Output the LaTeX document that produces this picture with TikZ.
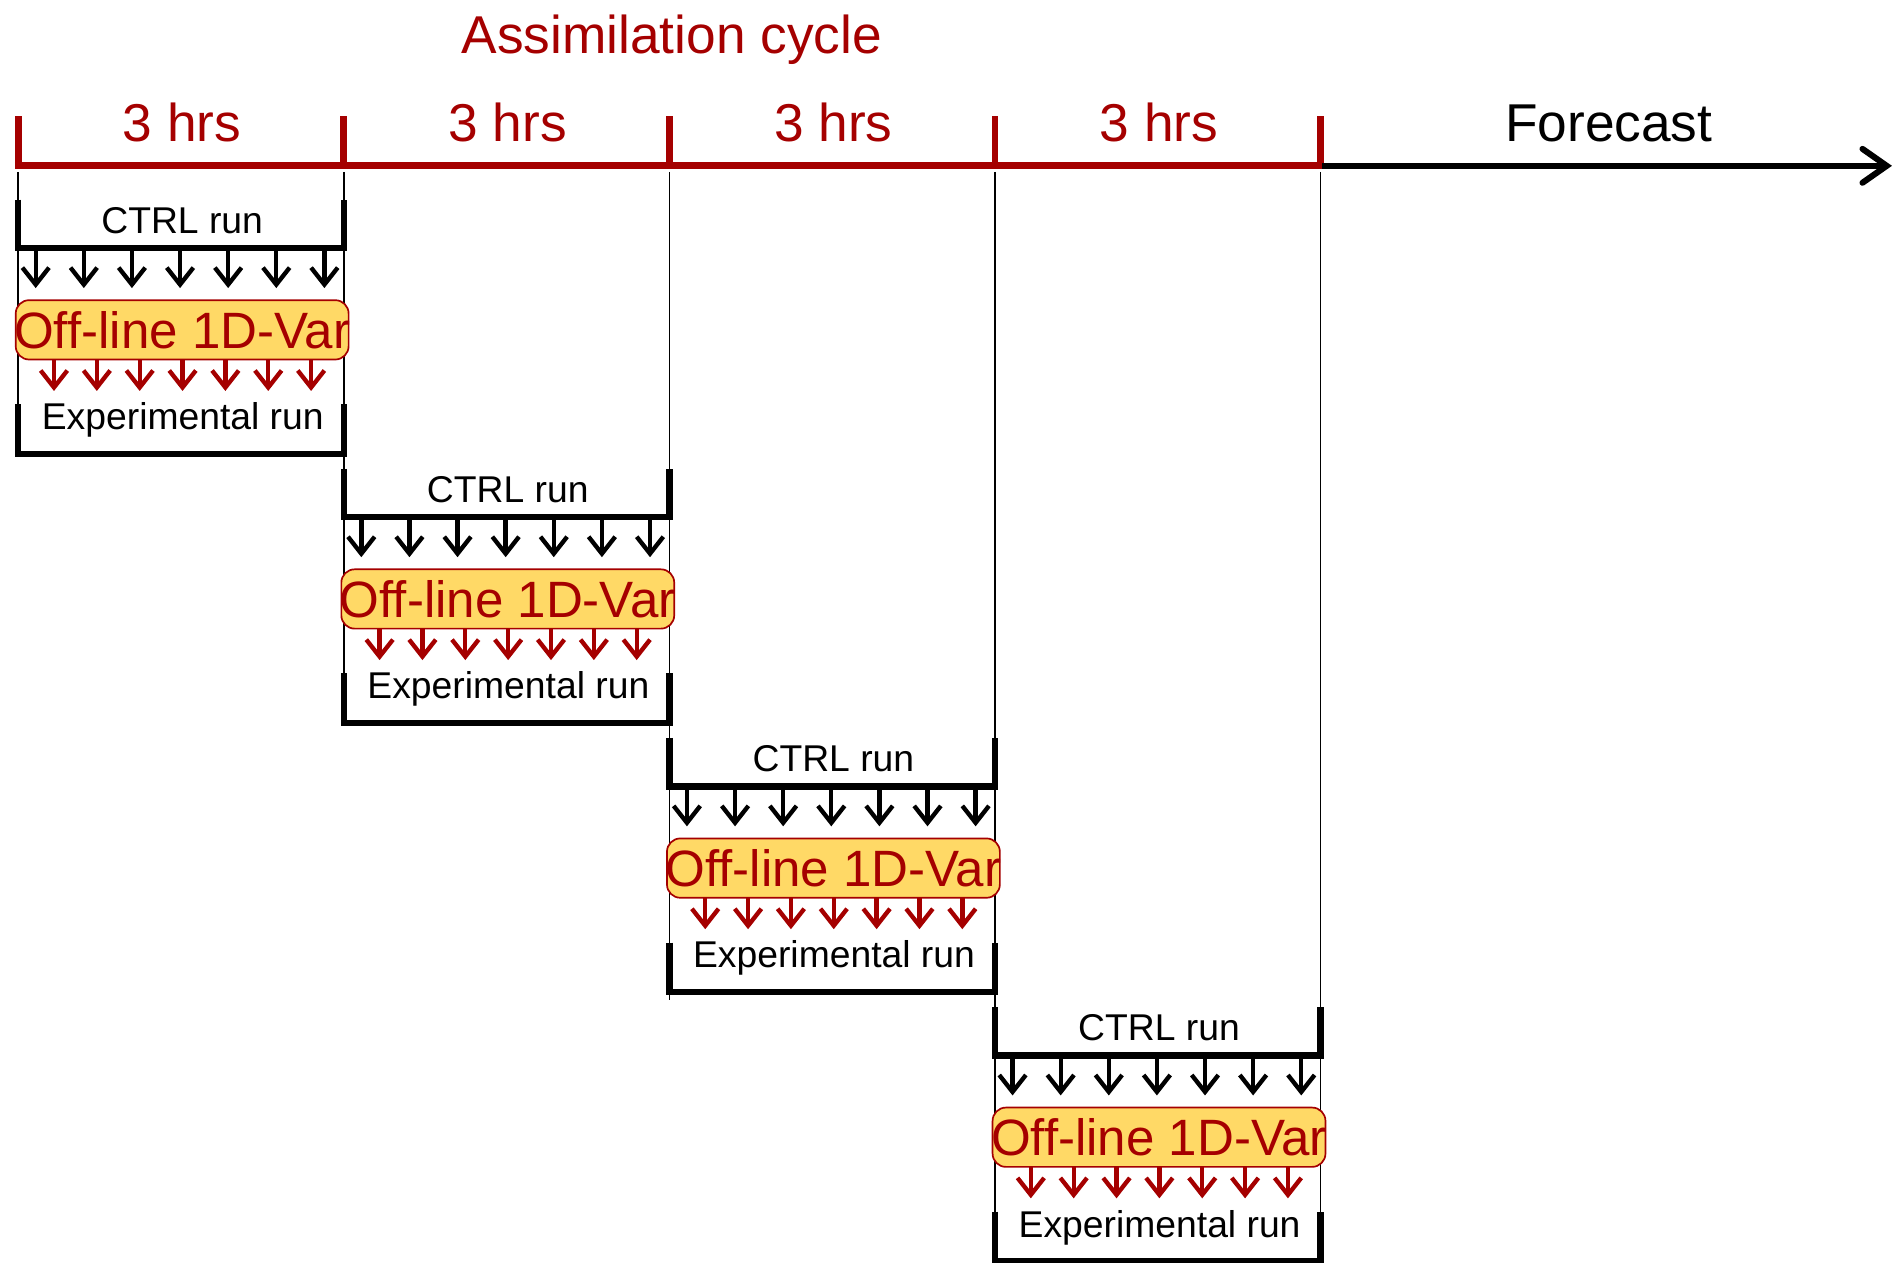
\documentclass[tikz,border=0pt]{standalone}
\usepackage{fontspec}
\setmainfont{Liberation Sans}
\usetikzlibrary{arrows.meta}
\definecolor{dred}{RGB}{165,0,0}
\definecolor{boxfill}{RGB}{255,217,102}
\begin{document}
\begin{tikzpicture}[x=0.5pt,y=-0.5pt,
  big/.style={font=\fontsize{22}{26}\selectfont, anchor=base, inner sep=0pt},
  small/.style={font=\fontsize{15.4}{18}\selectfont, anchor=base, inner sep=0pt},
  varbox/.style={draw=dred, line width=0.7pt, fill=boxfill, text=dred, rounded corners=5.5pt,
    font=\fontsize{21.1}{24}\selectfont, minimum width=137.5pt,
    minimum height=24.5pt, inner sep=0pt},
  bracket/.style={line width=2.6pt, line join=miter},
  tline/.style={dred, line width=3pt},
  tick/.style={dred, line width=2.8pt},
  thin/.style={line width=0.6pt},
  blkarrow/.style={line width=1.8pt, -{Straight Barb[length=7pt, width=11pt]}},
  redarrow/.style={dred, line width=1.8pt, -{Straight Barb[length=7pt, width=11pt]}},
  fcarrow/.style={line width=2.5pt, -{Straight Barb[length=10pt, width=14pt, line cap=round]}}
]
\useasboundingbox (0,0) rectangle (1568,1043);

% title
\node[big, text=dred] (title) at (555,44) {Assimilation cycle};

% thin vertical guide lines
\foreach \x/\yb [count=\n] in {15/377,284/600,553/826,822/1043,1091/1043}
  \draw[thin] (\x,142) -- (\x,\yb);

% timeline
\coordinate (t0) at (12.2,137);
\coordinate (t4) at (1091,137);
\coordinate (fend) at (1563,137);
\draw[tline] (t0) -- (t4);
\foreach \x [count=\n] in {15,284,553,822,1091}
  \draw[tick] (\x,96) coordinate (tk\n) -- (\x,140);
\draw[fcarrow] (1092.5,137) -- (fend);

\foreach \x [count=\n] in {150.5,419.5,688.5,957.5}
  \node[big, text=dred] (hrs\n) at (\x,117) {3 hrs};
\node[big] (forecast) at (1329,117) {Forecast};

% blocks
\foreach \k in {0,1,2,3} {
  \begin{scope}[shift={(269*\k,222.33*\k)}]
    \draw[bracket] (15,165) -- (15,205) -- (284,205) -- (284,165);
    \node[small] (ctrl\k) at (150.5,193) {CTRL run};
    \foreach \i in {0,...,6}
      \draw[blkarrow] (29.5+39.75*\i,207.5) -- (29.5+39.75*\i,238);
    \node[varbox] (var\k) at (150.5,272.5) {\makebox[137.5pt]{Off-line 1D-Var}};
    \foreach \i in {0,...,6}
      \draw[redarrow] (44.6+35.4*\i,297.5) -- (44.6+35.4*\i,323);
    \node[small] (exp\k) at (151,355) {Experimental run};
    \draw[bracket] (15,334) -- (15,375) -- (284,375) -- (284,334);
  \end{scope}
}
\end{tikzpicture}
\end{document}
